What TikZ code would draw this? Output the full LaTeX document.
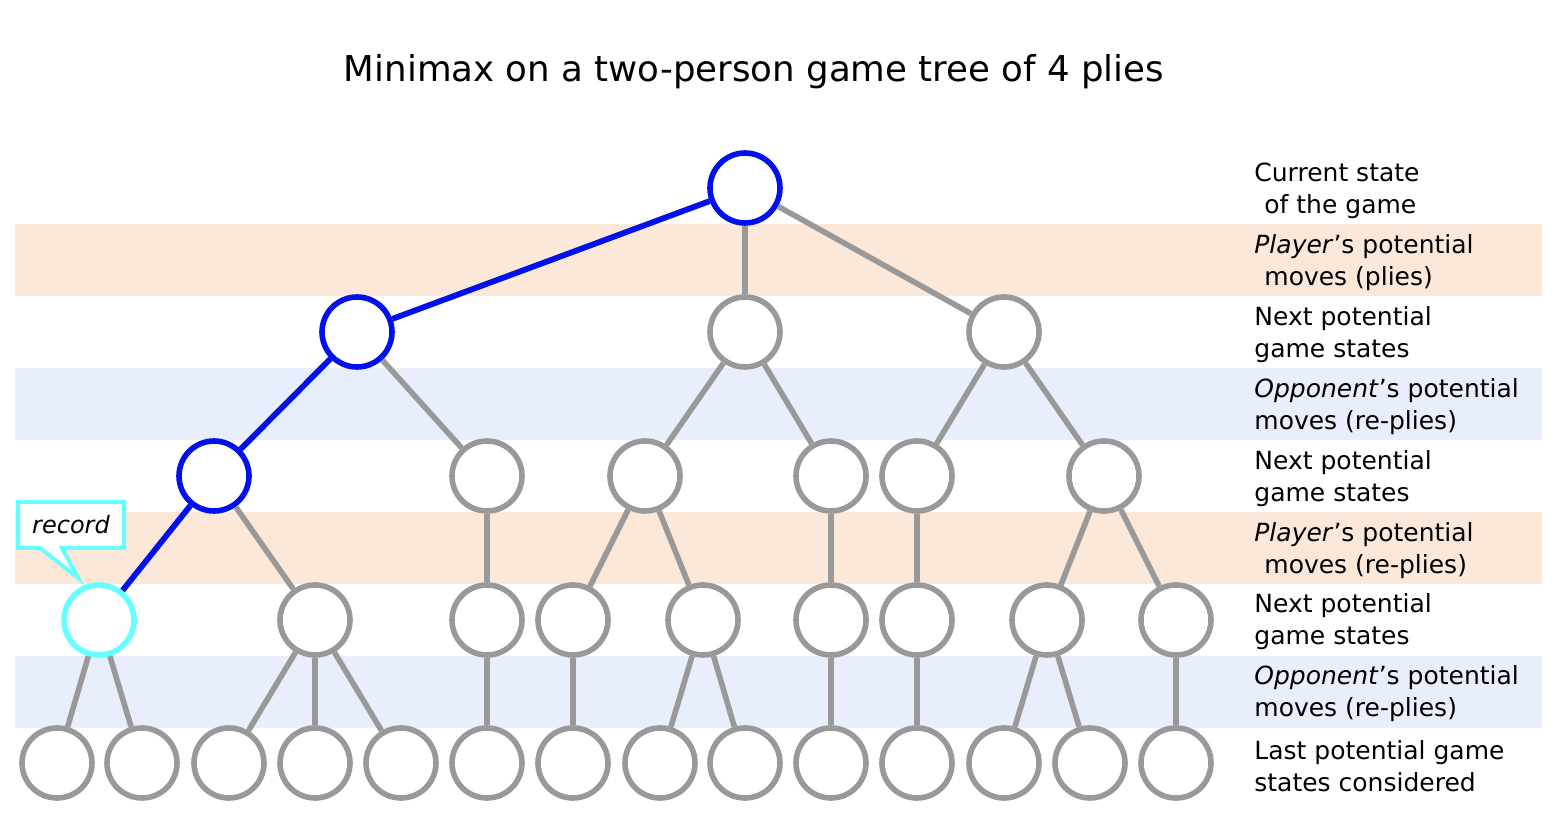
\documentclass[tikz,border=0pt]{standalone}
\usepackage{fontspec}
\setmainfont{DejaVu Sans}
\usetikzlibrary{positioning}
\definecolor{pathblue}{RGB}{0,17,238}
\definecolor{nodegray}{RGB}{153,153,153}
\definecolor{reccyan}{RGB}{102,255,255}
\definecolor{plyorange}{RGB}{252,232,216}
\definecolor{plyblue}{RGB}{232,238,252}
\tikzset{
  state/.style={circle, draw=nodegray, line width=2.8pt, fill=white, minimum size=35pt, inner sep=0pt},
  best/.style={state, draw=pathblue},
  rec/.style={state, draw=reccyan},
  edge/.style={draw=nodegray, line width=2.8pt},
  bestedge/.style={draw=pathblue, line width=2.9pt},
  rowlabel/.style={anchor=west, align=left, inner sep=0pt, font=\fontsize{12.5}{16}\selectfont},
}
\begin{document}
\begin{tikzpicture}[x=0.5pt,y=-0.5pt]
\useasboundingbox (0,0) rectangle (1564,838);
% bands for the plies
\foreach \y/\c in {224/plyorange,368/plyblue,512/plyorange,656/plyblue}
  \fill[\c] (15,\y) rectangle (1542,\y+72);
\node[font=\fontsize{17.8}{20}\selectfont] (title) at (754,72) {Minimax on a two-person game tree of 4 plies};
% game tree
\node[best] (n0) at (745,188) {};
\foreach \x/\s [count=\i] in {357/best,745/state,1004/state}
  \node[\s] (a\i) at (\x,332) {};
\foreach \x/\s [count=\i] in {214/best,487/state,645/state,831/state,917/state,1104/state}
  \node[\s] (b\i) at (\x,476) {};
\foreach \x/\s [count=\i] in {99/rec,315/state,487/state,573/state,703/state,831/state,917/state,1047/state,1176/state}
  \node[\s] (c\i) at (\x,620) {};
\foreach \x [count=\i] in {57,142,229,315,401,487,573,660,745,831,917,1004,1090,1176}
  \node[state] (d\i) at (\x,763) {};
\foreach \a/\b in {n0/a2,n0/a3,a1/b2,a2/b3,a2/b4,a3/b5,a3/b6,
  b1/c2,b2/c3,b3/c4,b3/c5,b4/c6,b5/c7,b6/c8,b6/c9,
  c1/d1,c1/d2,c2/d3,c2/d4,c2/d5,c3/d6,c4/d7,c5/d8,c5/d9,c6/d10,c7/d11,c8/d12,c8/d13,c9/d14}
  \draw[edge] (\a) -- (\b);
\foreach \a/\b in {n0/a1,a1/b1,b1/c1}
  \draw[bestedge] (\a) -- (\b);
% record callout
\draw[draw=reccyan, line width=2pt, fill=white] (18,502) -- (124,502) -- (124,548) -- (62,548)
  -- (78,578) -- (40,548) -- (18,548) -- cycle;
\node[font=\itshape\fontsize{12}{13}\selectfont] (rec) at (71,525) {record};
% row labels
\node[rowlabel] (l0) at (1254,191) {Current state\\\hspace{5pt}of the game};
\node[rowlabel] (l1) at (1254,263) {\textit{Player}'s potential\\\hspace{5pt}moves (plies)};
\node[rowlabel] (l2) at (1254,335) {Next potential\\game states};
\node[rowlabel] (l3) at (1254,407) {\textit{Opponent}'s potential\\moves (re-plies)};
\node[rowlabel] (l4) at (1254,479) {Next potential\\game states};
\node[rowlabel] (l5) at (1254,551) {\textit{Player}'s potential\\\hspace{5pt}moves (re-plies)};
\node[rowlabel] (l6) at (1254,622) {Next potential\\game states};
\node[rowlabel] (l7) at (1254,694) {\textit{Opponent}'s potential\\moves (re-plies)};
\node[rowlabel] (l8) at (1254,766) {Last potential game\\states considered};
\end{tikzpicture}
\end{document}
